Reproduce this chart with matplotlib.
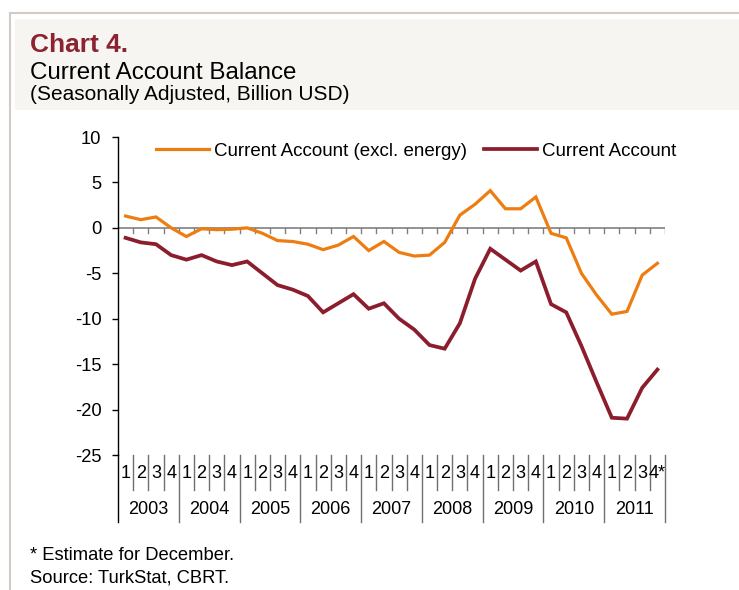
import matplotlib
matplotlib.use("Agg")
import matplotlib.pyplot as plt
from matplotlib.lines import Line2D
from matplotlib.patches import Rectangle
import matplotlib.transforms as mtransforms

plt.rcParams['font.family'] = ['Liberation Sans', 'DejaVu Sans']

years = ['2003', '2004', '2005', '2006', '2007', '2008', '2009', '2010', '2011']
quarter_labels = ['1', '2', '3', '4']
last_quarter_label = '4*'

ca_excl_energy = [1.3, 0.9, 1.2, 0.0,
                  -0.95, -0.1, -0.2, -0.15,
                  0.0, -0.6, -1.4, -1.5,
                  -1.8, -2.4, -1.9, -0.95,
                  -2.5, -1.5, -2.7, -3.1,
                  -3.0, -1.6, 1.4, 2.6,
                  4.1, 2.1, 2.1, 3.4,
                  -0.6, -1.1, -5.0, -7.4,
                  -9.5, -9.2, -5.2, -3.9]
ca_total = [-1.1, -1.6, -1.8, -3.0,
            -3.5, -3.0, -3.7, -4.1,
            -3.7, -5.0, -6.3, -6.8,
            -7.5, -9.3, -8.3, -7.3,
            -8.9, -8.3, -10.0, -11.2,
            -12.9, -13.3, -10.5, -5.6,
            -2.3, -3.5, -4.7, -3.7,
            -8.4, -9.3, -13.0, -17.0,
            -20.9, -21.0, -17.6, -15.6]

series_names = ['Current Account (excl. energy)', 'Current Account']
orange = '#EE7D11'
dark_red = '#8C1D2D'

W, H = 739, 590
fig = plt.figure(figsize=(W / 100, H / 100), dpi=100)
fig.patch.set_facecolor('white')

# header background and frame lines
fig.add_artist(Rectangle((15 / W, 1 - 110 / H), 1 - 15 / W, (110 - 19) / H,
                         transform=fig.transFigure, facecolor='#F6F5F1',
                         edgecolor='none', zorder=0))
fig.add_artist(Line2D([10 / W, 1], [1 - 13 / H, 1 - 13 / H], transform=fig.transFigure,
                      color='#D3CBC3', lw=1.5))
fig.add_artist(Line2D([10 / W, 10 / W], [0, 1 - 13 / H], transform=fig.transFigure,
                      color='#D3CBC3', lw=1.5))

fig.text(30 / W, 1 - 51.5 / H, 'Chart 4.', fontsize=18.9, fontweight='bold',
         color='#8B2332', va='baseline', ha='left')
fig.text(30 / W, 1 - 79 / H, 'Current Account Balance', fontsize=17.4,
         color='black', va='baseline', ha='left')
fig.text(30 / W, 1 - 100 / H, '(Seasonally Adjusted, Billion USD)', fontsize=15.0,
         color='black', va='baseline', ha='left')

fig.text(30 / W, 1 - 555 / H, '* Estimate for December.', fontsize=13.2,
         color='black', va='center', ha='left')
fig.text(30 / W, 1 - 578 / H, 'Source: TurkStat, CBRT.', fontsize=13.2,
         color='black', va='center', ha='left')

ax_left, ax_right, ax_top, ax_bot = 118, 665, 137, 455
ax = fig.add_axes([ax_left / W, 1 - ax_bot / H, (ax_right - ax_left) / W,
                   (ax_bot - ax_top) / H])
ax.set_facecolor('none')

n = len(ca_total)
x = [i + 0.5 for i in range(n)]
ax.plot(x, ca_excl_energy, color=orange, lw=2.3, label=series_names[0],
        solid_joinstyle='miter', zorder=3)
ax.plot(x, ca_total, color=dark_red, lw=2.7, label=series_names[1],
        solid_joinstyle='miter', zorder=3)

ax.set_xlim(0, n)
ax.set_ylim(-25, 10)
ax.set_yticks(range(-25, 11, 5))
ax.set_yticklabels([str(v) for v in range(-25, 11, 5)])
ax.tick_params(axis='y', direction='out', length=4, width=1, pad=8,
               labelsize=13.2, colors='black')
ax.set_xticks([])
for s in ['top', 'right', 'bottom']:
    ax.spines[s].set_visible(False)
ax.spines['left'].set_color('black')
ax.spines['left'].set_linewidth(1)

# zero line with small tick marks at quarter boundaries
ax.axhline(0, color='#808080', lw=1.2, zorder=2)
px_per_unit = (ax_bot - ax_top) / 35.0
for k in range(1, n + 1):
    ax.plot([k, k], [0, -5 / px_per_unit], color='#808080', lw=1, zorder=2)

# category axis below
trans = mtransforms.blended_transform_factory(ax.transData, ax.transAxes)
ax_h = ax_bot - ax_top
q_bottom = -(490 - ax_bot) / ax_h
y_bottom = -(522 - ax_bot) / ax_h
q_text_y = -(473 - ax_bot) / ax_h
y_text_y = -(509 - ax_bot) / ax_h
ax.plot([0, 0], [0, y_bottom], transform=trans, color='black', lw=1, clip_on=False)
for k in range(1, n + 1):
    if k % 4 == 0:
        ax.plot([k, k], [0, y_bottom], transform=trans, color='#707070', lw=1, clip_on=False)
    else:
        ax.plot([k, k], [0, q_bottom], transform=trans, color='#707070', lw=1, clip_on=False)
for i in range(n):
    lab = quarter_labels[i % 4]
    if i == n - 1:
        lab = last_quarter_label
    ax.text(i + 0.5, q_text_y, lab, transform=trans, ha='center', va='center',
            fontsize=13, clip_on=False)
for j, yr in enumerate(years):
    ax.text(j * 4 + 2, y_text_y, yr, transform=trans, ha='center', va='center',
            fontsize=13, clip_on=False)

leg = ax.legend(loc='center left', bbox_to_anchor=((156 - ax_left) / (ax_right - ax_left),
                                                    (ax_bot - 151) / ax_h),
                ncol=2, frameon=False, fontsize=13.5, handlelength=2.8,
                handletextpad=0.3, columnspacing=0.9, borderaxespad=0, borderpad=0)

fig.savefig('out.png', dpi=100)
